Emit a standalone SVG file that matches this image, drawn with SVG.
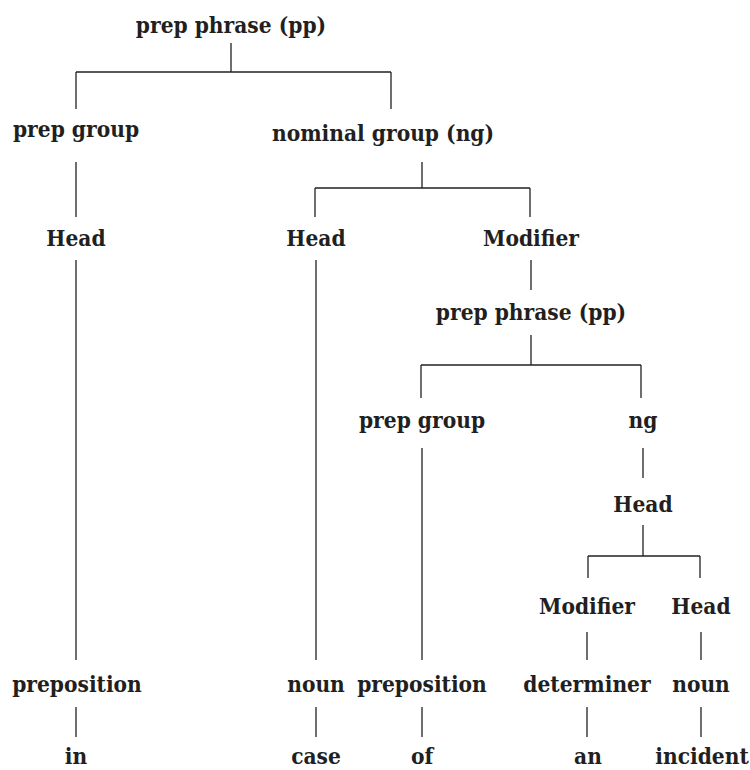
<svg xmlns="http://www.w3.org/2000/svg" width="750" height="770" viewBox="0 0 750 770">
<style>
text{font-family:"DejaVu Serif","Liberation Serif",serif;font-stretch:condensed;font-weight:bold;font-size:22.5px;fill:#231f20;text-anchor:middle}
.c line{stroke:#231f20;stroke-width:1.3;fill:none}
</style>
<rect width="750" height="770" fill="#fff"/>
<g class="c" id="connectors">
<line x1="231" y1="43" x2="231" y2="72"/>
<line x1="76" y1="72" x2="391" y2="72"/>
<line x1="76" y1="72" x2="76" y2="109"/>
<line x1="391" y1="72" x2="391" y2="109"/>
<line x1="76" y1="162" x2="76" y2="217"/>
<line x1="422" y1="162" x2="422" y2="188"/>
<line x1="315" y1="188" x2="530" y2="188"/>
<line x1="315" y1="188" x2="315" y2="217"/>
<line x1="530" y1="188" x2="530" y2="217"/>
<line x1="76" y1="260" x2="76" y2="660"/>
<line x1="316" y1="260" x2="316" y2="660"/>
<line x1="531" y1="260" x2="531" y2="290"/>
<line x1="531" y1="335" x2="531" y2="365"/>
<line x1="421" y1="365" x2="641" y2="365"/>
<line x1="421" y1="365" x2="421" y2="398"/>
<line x1="641" y1="365" x2="641" y2="398"/>
<line x1="422" y1="448" x2="422" y2="660"/>
<line x1="643" y1="448" x2="643" y2="478"/>
<line x1="643" y1="525" x2="643" y2="556"/>
<line x1="588" y1="556" x2="700" y2="556"/>
<line x1="588" y1="556" x2="588" y2="578"/>
<line x1="700" y1="556" x2="700" y2="578"/>
<line x1="587" y1="632" x2="587" y2="660"/>
<line x1="701" y1="632" x2="701" y2="660"/>
<line x1="76" y1="707" x2="76" y2="737"/>
<line x1="316" y1="707" x2="316" y2="737"/>
<line x1="422" y1="707" x2="422" y2="737"/>
<line x1="587" y1="707" x2="587" y2="737"/>
<line x1="701" y1="707" x2="701" y2="737"/>
</g>
<g id="n-pp1"><text x="231" y="33">prep phrase (pp)</text></g>
<g id="n-pg1"><text x="76" y="137">prep group</text></g>
<g id="n-ng1"><text x="383" y="141">nominal group (ng)</text></g>
<g id="n-head1"><text x="76" y="246">Head</text></g>
<g id="n-head2"><text x="316" y="246">Head</text></g>
<g id="n-mod1"><text x="531" y="246">Modifier</text></g>
<g id="n-pp2"><text x="531" y="320">prep phrase (pp)</text></g>
<g id="n-pg2"><text x="422" y="428">prep group</text></g>
<g id="n-ng2"><text x="643" y="428">ng</text></g>
<g id="n-head3"><text x="643" y="512">Head</text></g>
<g id="n-mod2"><text x="587" y="614">Modifier</text></g>
<g id="n-head4"><text x="701" y="614">Head</text></g>
<g id="n-prep1"><text x="77" y="692">preposition</text></g>
<g id="n-noun1"><text x="316" y="692">noun</text></g>
<g id="n-prep2"><text x="422" y="692">preposition</text></g>
<g id="n-det"><text x="587" y="692">determiner</text></g>
<g id="n-noun2"><text x="701" y="692">noun</text></g>
<g id="w-in"><text x="76" y="764">in</text></g>
<g id="w-case"><text x="316" y="764">case</text></g>
<g id="w-of"><text x="422" y="764">of</text></g>
<g id="w-an"><text x="588" y="764">an</text></g>
<g id="w-incident"><text x="702" y="764">incident</text></g>
</svg>
